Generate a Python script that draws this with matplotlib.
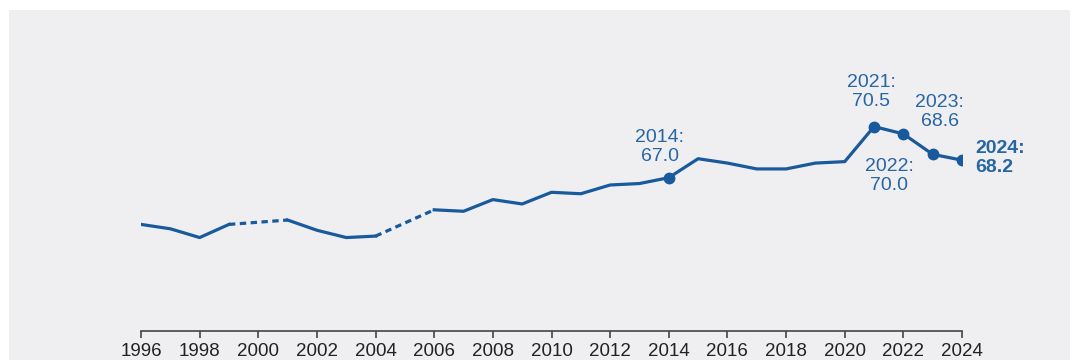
import matplotlib.pyplot as plt
import matplotlib.patches as mpatches
import numpy as np

plt.rcParams['font.family'] = ['Liberation Sans', 'DejaVu Sans']

# --- DATA ---
years = np.arange(1996, 2025)
values = [63.8, 63.5, 62.9, 63.8, None, 64.1, 63.4, 62.9, 63.0, None,
          64.8, 64.7, 65.5, 65.2, 66.0, 65.9, 66.5, 66.6, 67.0, 68.3,
          68.0, 67.6, 67.6, 68.0, 68.1, 70.5, 70.0, 68.6, 68.2]
marked_years = [2014, 2021, 2022, 2023, 2024]
tick_years = list(range(1996, 2025, 2))

line_color = '#185a9b'
text_color = '#2766a3'
panel_color = '#efeff2'

vals = np.array([np.nan if v is None else v for v in values], dtype=float)

fig = plt.figure(figsize=(10.8, 3.6), dpi=100)
fig.patch.set_facecolor('white')

# gray panel behind the chart
fig.patches.append(mpatches.Rectangle((9 / 1080, 0), (1070 - 9) / 1080, (360 - 10) / 360,
                                      transform=fig.transFigure, facecolor=panel_color,
                                      edgecolor='none', zorder=-10))

ax = fig.add_axes([141 / 1080, 29 / 360, (962 - 141) / 1080, (331 - 20) / 360])
ax.patch.set_alpha(0)

# solid runs (NaN breaks the line at missing years)
ax.plot(years, vals, color=line_color, lw=2.3, solid_joinstyle='round', zorder=3)

# dashed bridges over the missing years
valid = ~np.isnan(vals)
for i in range(1, len(vals) - 1):
    if not valid[i] and valid[i - 1]:
        j = i + 1
        while not valid[j]:
            j += 1
        ax.plot([years[i - 1], years[j]], [vals[i - 1], vals[j]], color=line_color,
                lw=2.3, linestyle=(0, (2.0, 1.4)), zorder=3)

# highlighted points
mx = [y for y in marked_years]
my = [vals[list(years).index(y)] for y in marked_years]
ax.plot(mx, my, 'o', color=line_color, ms=7.5, zorder=4)

# labels: (offset in pixels, horizontal alignment, bold)
label_cfg = {
    2014: ((-9, 31), 'center', False),
    2021: ((-3, 35), 'center', False),
    2022: ((-14, -42), 'center', False),
    2023: ((7, 42), 'center', False),
    2024: ((13, 2), 'left', True),
}
for y, v in zip(mx, my):
    off, ha, bold = label_cfg[y]
    ax.annotate(f"{y}:\n{v:.1f}", xy=(y, v), xytext=off, textcoords='offset pixels',
                ha=ha, va='center', fontsize=14, color=text_color, linespacing=1.15,
                fontweight='bold' if bold else 'normal', annotation_clip=False)

ax.set_xlim(1996, 2024)
ax.set_ylim(56.5, 77.8)

for s in ['top', 'right', 'left']:
    ax.spines[s].set_visible(False)
ax.spines['bottom'].set_color('#444444')
ax.spines['bottom'].set_linewidth(1.2)
ax.set_yticks([])
ax.set_xticks(tick_years)
ax.set_xticklabels([str(t) for t in tick_years])
ax.tick_params(axis='x', direction='out', length=5, width=1.2, color='#444444',
               labelsize=13.5, labelcolor='#222222', pad=4)
for lbl in ax.get_xticklabels():
    lbl.set_clip_on(False)

fig.savefig('out.png', dpi=100)
